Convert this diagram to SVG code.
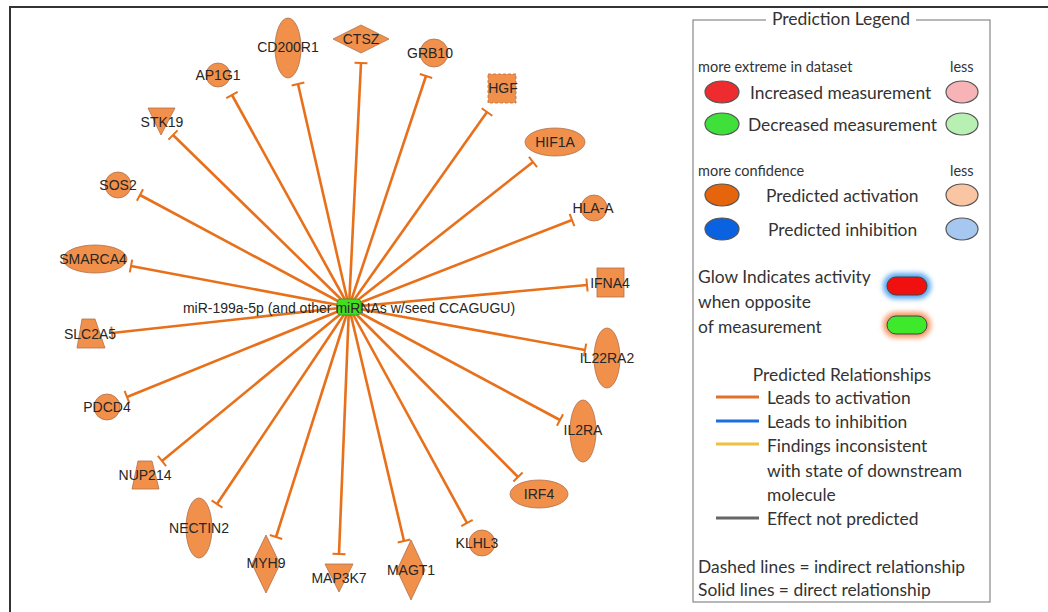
<svg xmlns="http://www.w3.org/2000/svg" width="1048" height="612" viewBox="0 0 1048 612">
<defs>
<style>
.edge{stroke:#e8701a;stroke-width:2.6;fill:none;marker-end:url(#tee)}
.node{fill:#f0904a;stroke:#b0704c;stroke-width:0.8}
.dash{stroke-dasharray:3 2}
.lbl{font-family:"Liberation Sans",Arial,sans-serif;font-size:14px;fill:#262626;text-anchor:middle;dominant-baseline:central}
.lg{font-family:Lato,"Open Sans",sans-serif;fill:#333}
.lgs{font-size:14.5px}
.lgm{font-size:17.4px}
.lgt{font-size:17.4px}
.dot{stroke:#555;stroke-width:1.2}
</style>
<marker id="tee" markerUnits="userSpaceOnUse" markerWidth="6" markerHeight="16" viewBox="-3 -8 6 16" refX="0" refY="0" orient="auto">
<path d="M0,-6.5 V6.5" stroke="#e8701a" stroke-width="2"/>
</marker>
<filter id="blur" x="-50%" y="-50%" width="200%" height="200%"><feGaussianBlur stdDeviation="2.5"/></filter>
</defs>
<rect width="1048" height="612" fill="#ffffff"/>
<g id="frame" stroke="#333" stroke-width="2" fill="none">
<path d="M10,612 V7 H1048"/>
</g>

<g id="connectors">
<line class="edge" x1="349" y1="307" x2="298" y2="84"/>
<line class="edge" x1="349" y1="307" x2="361" y2="63"/>
<line class="edge" x1="349" y1="307" x2="426" y2="76"/>
<line class="edge" x1="349" y1="307" x2="487" y2="112"/>
<line class="edge" x1="349" y1="307" x2="533" y2="162"/>
<line class="edge" x1="349" y1="307" x2="572" y2="220"/>
<line class="edge" x1="349" y1="307" x2="587" y2="285"/>
<line class="edge" x1="349" y1="307" x2="585" y2="350"/>
<line class="edge" x1="349" y1="307" x2="560" y2="420"/>
<line class="edge" x1="349" y1="307" x2="518" y2="477"/>
<line class="edge" x1="349" y1="307" x2="467" y2="523"/>
<line class="edge" x1="349" y1="307" x2="404" y2="541"/>
<line class="edge" x1="349" y1="307" x2="339" y2="554"/>
<line class="edge" x1="349" y1="307" x2="276" y2="537"/>
<line class="edge" x1="349" y1="307" x2="217" y2="504"/>
<line class="edge" x1="349" y1="307" x2="162" y2="461"/>
<line class="edge" x1="349" y1="307" x2="127" y2="397"/>
<line class="edge" x1="349" y1="307" x2="112" y2="333"/>
<line class="edge" x1="349" y1="307" x2="131" y2="266"/>
<line class="edge" x1="349" y1="307" x2="140" y2="195"/>
<line class="edge" x1="349" y1="307" x2="173" y2="135"/>
<line class="edge" x1="349" y1="307" x2="232" y2="95"/>
</g>

<g id="center">
<rect x="337" y="299" width="24" height="16" rx="4" fill="#44dd22" stroke="#2a9a18" stroke-width="0.8"/>
<text class="lbl" x="349" y="308">miR-199a-5p (and other miRNAs w/seed CCAGUGU)</text>
</g>

<g id="CD200R1"><ellipse class="node" cx="288" cy="48" rx="13" ry="30"/><text class="lbl" x="288" y="47">CD200R1</text></g>
<g id="CTSZ"><polygon class="node" points="333,39 361,25 389,39 361,53"/><text class="lbl" x="361" y="39">CTSZ</text></g>
<g id="GRB10"><circle class="node" cx="434" cy="53" r="14"/><text class="lbl" x="430" y="53">GRB10</text></g>
<g id="HGF"><rect class="node dash" x="488" y="74" width="28" height="29"/><text class="lbl" x="503" y="88">HGF</text></g>
<g id="HIF1A"><ellipse class="node" cx="555" cy="142" rx="30" ry="14"/><text class="lbl" x="555" y="142">HIF1A</text></g>
<g id="HLA-A"><circle class="node" cx="594" cy="208" r="13"/><text class="lbl" x="593" y="208">HLA-A</text></g>
<g id="IFNA4"><rect class="node" x="597" y="268" width="27" height="29"/><text class="lbl" x="610" y="283">IFNA4</text></g>
<g id="IL22RA2"><ellipse class="node" cx="607" cy="358" rx="13" ry="30"/><text class="lbl" x="607" y="358">IL22RA2</text></g>
<g id="IL2RA"><ellipse class="node" cx="583" cy="431" rx="13" ry="31"/><text class="lbl" x="583" y="430">IL2RA</text></g>
<g id="IRF4"><ellipse class="node" cx="539" cy="494" rx="29" ry="14"/><text class="lbl" x="539" y="494">IRF4</text></g>
<g id="KLHL3"><circle class="node" cx="482" cy="543" r="13"/><text class="lbl" x="477" y="543">KLHL3</text></g>
<g id="MAGT1"><polygon class="node" points="411,540 425,570 411,600 397,570"/><text class="lbl" x="411" y="570">MAGT1</text></g>
<g id="MAP3K7"><polygon class="node" points="325,564 353,564 339,592"/><text class="lbl" x="339" y="578">MAP3K7</text></g>
<g id="MYH9"><polygon class="node" points="266,535 280,564 266,593 252,564"/><text class="lbl" x="266" y="563">MYH9</text></g>
<g id="NECTIN2"><ellipse class="node" cx="199" cy="528" rx="13" ry="30"/><text class="lbl" x="199" y="528">NECTIN2</text></g>
<g id="NUP214"><polygon class="node" points="138,461 152,461 159,489 132,489"/><text class="lbl" x="145" y="475">NUP214</text></g>
<g id="PDCD4"><circle class="node" cx="107" cy="407" r="13"/><text class="lbl" x="107" y="407">PDCD4</text></g>
<g id="SLC2A5"><polygon class="node" points="82,319 95,319 105,348 77,348"/><text class="lbl" x="90" y="334">SLC2A5</text></g>
<g id="SMARCA4"><ellipse class="node" cx="95" cy="259" rx="32" ry="14"/><text class="lbl" x="93" y="259">SMARCA4</text></g>
<g id="SOS2"><circle class="node" cx="118" cy="185" r="13"/><text class="lbl" x="118" y="185">SOS2</text></g>
<g id="STK19"><polygon class="node" points="148,108 175,108 161,135"/><text class="lbl" x="162" y="122">STK19</text></g>
<g id="AP1G1"><circle class="node" cx="218" cy="75" r="12"/><text class="lbl" x="218" y="75">AP1G1</text></g>

<g id="legend">
<rect x="693" y="20" width="297" height="582" fill="#fff" stroke="#888" stroke-width="1.2"/>
<rect x="766" y="12" width="150" height="16" fill="#fff"/>
<text class="lg" x="841" y="25" font-size="17.5" text-anchor="middle">Prediction Legend</text>
<text class="lg lgs" x="698" y="72">more extreme in dataset</text>
<text class="lg lgs" x="950" y="72">less</text>
<ellipse class="dot" cx="722" cy="92" rx="17" ry="11" fill="#ee2b2e"/>
<text class="lg lgm" x="750" y="99">Increased measurement</text>
<ellipse class="dot" cx="962" cy="92" rx="16" ry="11" fill="#f7b3b6"/>
<ellipse class="dot" cx="722" cy="124" rx="17" ry="11" fill="#3fe03a"/>
<text class="lg lgm" x="748" y="131">Decreased measurement</text>
<ellipse class="dot" cx="962" cy="124" rx="16" ry="11" fill="#b8f0b4"/>
<text class="lg lgs" x="698" y="176">more confidence</text>
<text class="lg lgs" x="950" y="176">less</text>
<ellipse class="dot" cx="722" cy="195" rx="17" ry="11" fill="#e5640c"/>
<text class="lg lgm" x="766" y="202">Predicted activation</text>
<ellipse class="dot" cx="962" cy="195" rx="16" ry="11" fill="#f9c5a2"/>
<ellipse class="dot" cx="722" cy="229" rx="17" ry="11" fill="#0a62e0"/>
<text class="lg lgm" x="768" y="236">Predicted inhibition</text>
<ellipse class="dot" cx="962" cy="229" rx="16" ry="11" fill="#a6c8f0"/>
<text class="lg lgt" x="698" y="283">Glow Indicates activity</text>
<text class="lg lgt" x="698" y="308">when opposite</text>
<text class="lg lgt" x="698" y="333">of measurement</text>
<rect x="883" y="273" width="48" height="26" rx="13" fill="#5aa8f0" filter="url(#blur)"/>
<rect x="887" y="277" width="40" height="18" rx="9" fill="#f01010" stroke="#444" stroke-width="1"/>
<rect x="883" y="312" width="48" height="26" rx="13" fill="#f59a6a" filter="url(#blur)"/>
<rect x="887" y="316" width="40" height="18" rx="9" fill="#3ee82a" stroke="#444" stroke-width="1"/>
<text class="lg lgt" x="842" y="381" text-anchor="middle">Predicted Relationships</text>
<line x1="716" y1="397" x2="759" y2="397" stroke="#e0702a" stroke-width="3"/>
<text class="lg lgt" x="767" y="404">Leads to activation</text>
<line x1="716" y1="421" x2="759" y2="421" stroke="#1a6ee0" stroke-width="3"/>
<text class="lg lgt" x="767" y="428">Leads to inhibition</text>
<line x1="716" y1="444" x2="759" y2="444" stroke="#f0c040" stroke-width="3"/>
<text class="lg lgt" x="767" y="452">Findings inconsistent</text>
<text class="lg lgt" x="767" y="477">with state of downstream</text>
<text class="lg lgt" x="767" y="501">molecule</text>
<line x1="716" y1="518" x2="759" y2="518" stroke="#666" stroke-width="3"/>
<text class="lg lgt" x="767" y="525">Effect not predicted</text>
<text class="lg lgt" x="698" y="573">Dashed lines = indirect relationship</text>
<text class="lg lgt" x="698" y="596">Solid lines = direct relationship</text>
</g>
</svg>
